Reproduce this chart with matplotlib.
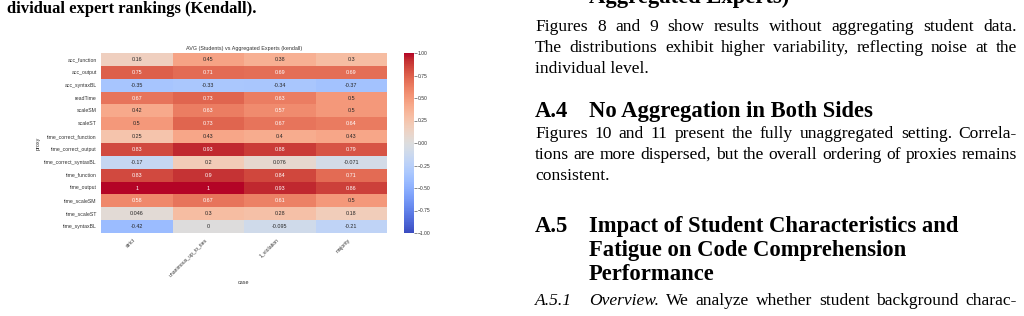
import numpy as np
import pandas as pd
import matplotlib
matplotlib.use("Agg")
import matplotlib.pyplot as plt
import seaborn as sns

# heatmap data
proxies = ["acc_function", "acc_output", "acc_syntaxBL", "readTime", "scaleSM", "scaleST",
           "time_correct_function", "time_correct_output", "time_correct_syntaxBL",
           "time_function", "time_output", "time_scaleSM", "time_scaleST", "time_syntaxBL"]
cases = ["strict", "unanimous_up_to_ties", "1_violation", "majority"]
strict = [0.16, 0.75, -0.35, 0.67, 0.42, 0.5, 0.25, 0.83, -0.17, 0.83, 1, 0.58, 0.046, -0.42]
unanimous = [0.45, 0.71, -0.33, 0.73, 0.63, 0.73, 0.43, 0.93, 0.2, 0.9, 1, 0.67, 0.3, 0]
one_violation = [0.38, 0.69, -0.34, 0.63, 0.57, 0.67, 0.4, 0.88, 0.076, 0.84, 0.93, 0.61, 0.28, -0.095]
majority = [0.3, 0.69, -0.37, 0.5, 0.5, 0.64, 0.43, 0.79, -0.071, 0.71, 0.86, 0.5, 0.18, -0.21]

# page text around the figure
caption_tail = "dividual expert rankings (Kendall)."
cut_heading = "Aggregated Experts)"
para1 = ["Figures 8 and 9 show results without aggregating student data.",
         "The distributions exhibit higher variability, reflecting noise at the",
         "individual level."]
head_a4 = ("A.4", "No Aggregation in Both Sides")
para2 = ["Figures 10 and 11 present the fully unaggregated setting. Correla-",
         "tions are more dispersed, but the overall ordering of proxies remains",
         "consistent."]
head_a5 = ("A.5", ["Impact of Student Characteristics and",
                   "Fatigue on Code Comprehension",
                   "Performance"])
sub_a51 = ("A.5.1", "Overview.", "We analyze whether student background charac-")

W, H = 1024, 316
fig = plt.figure(figsize=(W / 100, H / 100), dpi=100)
fig.patch.set_facecolor("white")

df = pd.DataFrame({cases[0]: strict, cases[1]: unanimous,
                   cases[2]: one_violation, cases[3]: majority}, index=proxies)
df.index.name = "proxy"
df.columns.name = "case"

ax = fig.add_axes([101 / W, 1 - 233 / H, 286 / W, 180 / H])
cax = fig.add_axes([404 / W, 1 - 233 / H, 9.5 / W, 180 / H])
sans = "Liberation Sans"
grey = "#333333"
sns.heatmap(df, annot=True, cmap="coolwarm", vmin=-1, vmax=1, ax=ax, cbar_ax=cax,
            xticklabels=True, yticklabels=True,
            annot_kws={"fontsize": 3.9, "family": sans})
ax.set_title("AVG (Students) vs Aggregated Experts (kendall)", fontsize=3.9,
             family=sans, color=grey, pad=2.5)
ax.set_xlabel("case", fontsize=3.9, family=sans, color=grey, labelpad=2)
ax.set_ylabel("proxy", fontsize=3.9, family=sans, color=grey, labelpad=3)
ax.tick_params(length=0, pad=3)
for t in ax.get_xticklabels():
    t.set_rotation(45)
    t.set_ha("right")
    t.set_fontsize(3.7)
    t.set_family(sans)
    t.set_color(grey)
for t in ax.get_yticklabels():
    t.set_rotation(0)
    t.set_fontsize(3.7)
    t.set_family(sans)
    t.set_color(grey)
cax.tick_params(length=2, width=0.4, pad=1, labelsize=3.6, colors=grey)
for t in cax.get_yticklabels():
    t.set_family(sans)

# ---- surrounding page text ----
serif = "Liberation Serif"
renderer = fig.canvas.get_renderer()
body_size = 12.6
head_size = 16.3


def fy(y):
    return 1 - y / H


def put(x, y, s, **kw):
    return fig.text(x / W, fy(y), s, family=serif, va="baseline", ha="left", **kw)


def text_width(s, **kw):
    t = fig.text(0, 0, s, family=serif, **kw)
    w = t.get_window_extent(renderer).width
    t.remove()
    return w


def justify(x0, x1, y, words):
    # words: list of (text, style dict)
    widths = [text_width(w, **st) for w, st in words]
    gap = (x1 - x0 - sum(widths)) / (len(words) - 1)
    x = x0
    for (w, st), wd in zip(words, widths):
        put(x, y, w, **st)
        x += wd + gap


L, R, IND = 535, 1017, 589
reg = {"fontsize": body_size}

put(7, 13, caption_tail, fontsize=12, fontweight="bold")
put(IND, 3, cut_heading, fontsize=head_size, fontweight="bold")

for i, line in enumerate(para1):
    y = 31 + 21 * i
    if i < len(para1) - 1:
        justify(L, R, y, [(w, reg) for w in line.split()])
    else:
        put(L, y, line, **reg)

put(L, 117, head_a4[0], fontsize=head_size, fontweight="bold")
put(IND, 117, head_a4[1], fontsize=head_size, fontweight="bold")

for i, line in enumerate(para2):
    y = 138 + 21 * i
    if i < len(para2) - 1:
        justify(L, R, y, [(w, reg) for w in line.split()])
    else:
        put(L, y, line, **reg)

put(L, 232, head_a5[0], fontsize=head_size, fontweight="bold")
for i, line in enumerate(head_a5[1]):
    put(IND, 232 + 24 * i, line, fontsize=head_size, fontweight="bold")

ital = {"fontsize": body_size, "style": "italic"}
put(L, 305, sub_a51[0], **ital)
justify(IND, R, 305, [(sub_a51[1], ital)] + [(w, reg) for w in sub_a51[2].split()])

fig.savefig("out.png", dpi=100, facecolor="white")
